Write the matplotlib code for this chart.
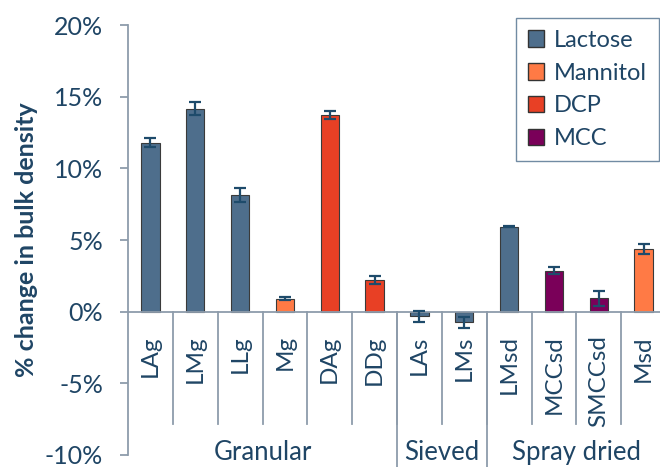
import matplotlib.pyplot as plt
from matplotlib.patches import Patch

plt.rcParams['font.family'] = ['Lato', 'DejaVu Sans']

# data
categories = ["LAg", "LMg", "LLg", "Mg", "DAg", "DDg", "LAs", "LMs",
              "LMsd", "MCCsd", "SMCCsd", "Msd"]
values = [11.8, 14.15, 8.15, 0.9, 13.75, 2.2, -0.32, -0.75, 5.93, 2.85, 0.93, 4.38]
errors = [0.3, 0.45, 0.5, 0.12, 0.28, 0.28, 0.4, 0.38, 0.05, 0.24, 0.5, 0.35]
materials = ["Lactose", "Lactose", "Lactose", "Mannitol", "DCP", "DCP", "Lactose",
             "Lactose", "Lactose", "MCC", "MCC", "Mannitol"]
groups = ["Granular", "Sieved", "Spray dried"]
group_sizes = [6, 2, 4]

colors = {"Lactose": "#4E6E8C", "Mannitol": "#FF7A45", "DCP": "#E84025", "MCC": "#7A0059"}
text_col = "#1F4565"
axis_col = "#8E9CAB"
err_col = "#1E4B6B"

fig = plt.figure(figsize=(6.6, 4.67), dpi=100)
# axes runs a little past the right edge like the cropped original
ax = fig.add_axes([128 / 660, 12 / 467, 538 / 660, 430 / 467])

xs = list(range(len(categories)))
ax.bar(xs, values, width=0.41, color=[colors[m] for m in materials],
       edgecolor="#3a3a3a", linewidth=0.8, zorder=2)
ax.errorbar(xs, values, yerr=errors, fmt="none", ecolor=err_col, elinewidth=1.6,
            capsize=4, capthick=1.6, zorder=3)

ax.set_xlim(-0.5, len(categories) - 0.5)
ax.set_ylim(-10, 20)
ax.set_yticks(range(-10, 21, 5))
ax.set_yticklabels([f"{v}%" for v in range(-10, 21, 5)])
ax.tick_params(axis="y", colors=axis_col, labelcolor=text_col, labelsize=18,
               length=6, width=1.3, pad=12)
ax.set_xticks(xs)
ax.set_xticklabels(categories)
ax.tick_params(axis="x", length=0, labelsize=17.5, labelcolor=text_col, pad=17,
               labelrotation=90)

for s in ["top", "right"]:
    ax.spines[s].set_visible(False)
ax.spines["left"].set_color(axis_col)
ax.spines["left"].set_linewidth(1.3)
ax.spines["bottom"].set_position(("data", 0))
ax.spines["bottom"].set_color(axis_col)
ax.spines["bottom"].set_linewidth(1.3)

# category separators and group separators
for i in range(1, len(categories) + 1):
    ax.plot([i - 0.5, i - 0.5], [0, -7.85], color=axis_col, lw=1.3, clip_on=False)
start = 0
for g, n in zip(groups, group_sizes):
    end = start + n
    ax.plot([end - 0.5, end - 0.5], [0, -11], color=axis_col, lw=1.3, clip_on=False)
    ax.text((start + end - 1) / 2, -9.8, g, ha="center", va="center",
            fontsize=18.5, color=text_col)
    start = end

ax.set_ylabel("% change in bulk density", fontsize=18, fontweight="bold",
              color=text_col, labelpad=5)

handles = [Patch(facecolor=colors[k], edgecolor="#333333", label=k) for k in colors]
leg = fig.legend(handles=handles, loc="upper left", bbox_to_anchor=(516 / 660, 1 - 18 / 467),
                 fontsize=17, frameon=True, fancybox=False, handlelength=0.7,
                 handleheight=0.7, handletextpad=0.4, labelspacing=0.5,
                 borderpad=0.5, borderaxespad=0)
leg.get_frame().set_edgecolor("#4E6E8C")
leg.get_frame().set_linewidth(1.0)
for t in leg.get_texts():
    t.set_color(text_col)

fig.savefig("out.png", dpi=100)
